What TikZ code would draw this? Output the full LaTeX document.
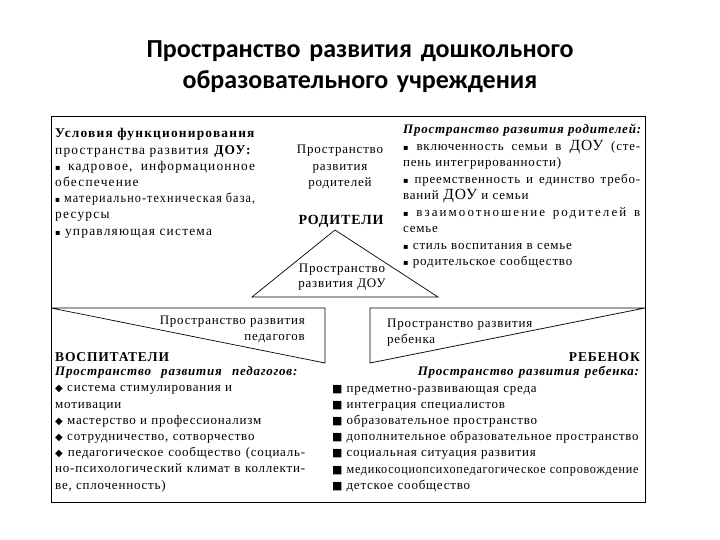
\documentclass[tikz,border=0pt]{standalone}
\usepackage{fontspec}
\usepackage{graphicx}
\setmainfont{Liberation Serif}
\newfontfamily\bodyf{Liberation Serif}[LetterSpace=6]
\newfontfamily\bodyw{Liberation Serif}[LetterSpace=9]
\newfontfamily\bodyx{Liberation Serif}[LetterSpace=16]
\newfontfamily\titlef{Carlito}
\newfontfamily\symf{DejaVu Sans}
\newcommand\sqb{{\symf\fontsize{8}{8}\selectfont ▪}}
\newcommand\dia{{\symf\fontsize{10}{10}\selectfont ◆}}
\newcommand\bsq{{\symf\fontsize{11}{11}\selectfont ■}}
\newcommand\bigD{{\fontsize{15.5}{16.5}\selectfont ДОУ}}
\newcommand\J[2]{\makebox[#1][s]{\spaceskip=.33em plus 1fil\xspaceskip=.33em plus 1fil #2}}
\begin{document}
\begin{tikzpicture}[x=1pt,y=-1pt,
  frame/.style={draw=black, line width=0.7pt},
  body/.style={font=\bodyf\fontsize{13}{16.2}\selectfont, inner sep=0pt},
  bodyL/.style={font=\bodyw\fontsize{13.4}{16.2}\selectfont, inner sep=0pt},
  bodyR/.style={font=\bodyf\fontsize{13}{16.5}\selectfont, inner sep=0pt},
  head/.style={font=\bodyf\bfseries\fontsize{13.5}{16}\selectfont, inner sep=0pt},
  title/.style={font=\titlef\bfseries\fontsize{26}{31}\selectfont, inner sep=0pt, align=center, text width=560pt}
]
\useasboundingbox (0,0) rectangle (720,540);
% frames
\draw[frame] (51,116) rectangle (645,502);
\draw[frame] (335,230) -- (438,297) -- (252,297) -- cycle;
\draw[frame] (51,308) -- (325,308) -- (325,363) -- cycle;
\draw[frame] (645,308) -- (370,308) -- (370,363) -- cycle;

% title
\node[title, anchor=base] (title) at (360,58) {Пространство развития дошкольного\\образовательного учреждения};

% left top block
\node[bodyL, anchor=base west, text width=200pt, align=left] (condA) at (55,138) {%
\J{200pt}{\textbf{Условия функционирования}}\\
пространства развития \textbf{ДОУ:}\\
\J{200pt}{\sqb{} кадровое, информационное}\\
обеспечение\\
\resizebox{200pt}{\height}{\sqb{} материально-техническая база,}\\
ресурсы\\
\sqb{} управляющая система};

% middle top
\node[bodyR, anchor=base, align=center, text width=100pt] (parSp) at (340,154) {Пространство\\развития\\родителей};
\node[head, anchor=base, font=\bodyf\bfseries\fontsize{14}{16}\selectfont] (rodit) at (341,225) {РОДИТЕЛИ};
\node[bodyR, anchor=base, align=center, text width=110pt, font=\bodyf\fontsize{13}{15}\selectfont] (dou) at (342,272) {Пространство\\развития ДОУ};

% right top block
\node[bodyR, anchor=base west, text width=237pt, align=left] (condR) at (403,134) {%
\J{237pt}{\textbf{\textit{Пространство развития родителей:}}}\\
\J{237pt}{\sqb{} включенность семьи в \bigD{} (сте-}\\
пень интегрированности)\\
\J{237pt}{\sqb{} преемственность и единство требо-}\\
ваний \bigD{} и семьи\\
\J{237pt}{\sqb{} {\bodyx взаимоотношение} {\bodyx родителей} {\bodyx в}}\\
семье\\
\sqb{} стиль воспитания в семье\\
\sqb{} родительское сообщество};

% bottom left
\node[body, anchor=base east, align=right, text width=160pt] (pedSp) at (305,324) {Пространство развития\\педагогов};
\node[head, anchor=base west] (vosp) at (55,361) {ВОСПИТАТЕЛИ};
\node[body, anchor=base west, text width=250pt, align=left] (pedList) at (55,375) {%
\J{243pt}{\textbf{\textit{Пространство развития педагогов:}}}\\[0.6pt]
\dia{} система стимулирования и\\
мотивации\\
\dia{} мастерство и профессионализм\\
\dia{} сотрудничество, сотворчество\\
\J{250pt}{\dia{} педагогическое сообщество (социаль-}\\
\J{250pt}{но-психологический климат в коллекти-}\\
ве, сплоченность)};

% bottom right
\node[body, anchor=base west, align=left, text width=160pt] (chSp) at (387,327) {Пространство развития\\ребенка};
\node[head, anchor=base east] (rebenok) at (640,361) {РЕБЕНОК};
\node[body, anchor=base east] (chHead) at (640,375) {\J{222pt}{\textbf{\textit{Пространство развития ребенка:}}}};
\node[body, anchor=base west, align=left, text width=320pt] (chList) at (332,392) {%
\bsq\hspace{4pt}предметно-развивающая среда\\
\bsq\hspace{4pt}интеграция специалистов\\
\bsq\hspace{4pt}образовательное пространство\\
\bsq\hspace{4pt}\resizebox{292pt}{\height}{дополнительное образовательное пространство}\\
\bsq\hspace{4pt}социальная ситуация развития\\
\bsq\hspace{4pt}\resizebox{292pt}{\height}{медикосоциопсихопедагогическое сопровождение}\\
\bsq\hspace{4pt}детское сообщество};
\end{tikzpicture}
\end{document}
